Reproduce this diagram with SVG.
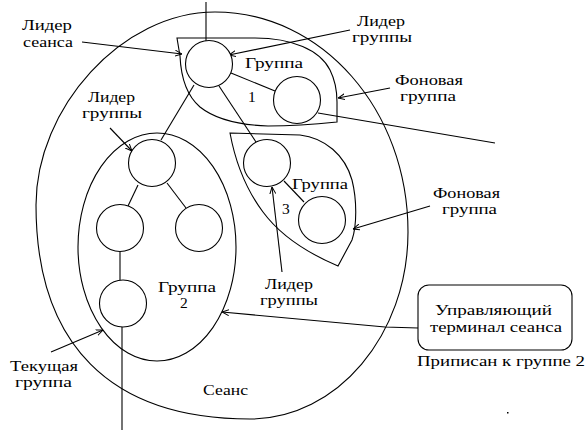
<svg xmlns="http://www.w3.org/2000/svg" width="588" height="430" viewBox="0 0 588 430">
<style>
.o{fill:none;stroke:#000;stroke-width:1.1}
.c{fill:#fff;stroke:#000;stroke-width:1.1}
.l{fill:none;stroke:#000;stroke-width:1.1}
.a{fill:none;stroke:#000;stroke-width:1.1;marker-end:url(#ah)}
text{font-family:'Liberation Serif','DejaVu Serif',serif;font-size:15.5px;fill:#000}
</style>
<defs>
<marker id="ah" viewBox="0 0 7 7" refX="7" refY="3.5" markerWidth="7" markerHeight="7" markerUnits="userSpaceOnUse" orient="auto">
<path d="M0,0.5 L7,3.5 L0,6.5" fill="none" stroke="#000" stroke-width="1"/>
</marker>
</defs>
<rect width="588" height="430" fill="#fff"/>

<g id="session">
<path class="o" d="M215,12 C322,12 408,110 408,232 C408,335 337,419 250,419 C110,419 36,344 36,205 C36,108 122,12 215,12 Z"/>
<text x="203" y="395" textLength="45" lengthAdjust="spacingAndGlyphs">Сеанс</text>
</g>

<g id="group1">
<path class="o" d="M177,38 L255,38 C292,38 320,50 330,70 C336,82 337,92 337,102 L337,122 C318,124 298,126 268,126 C240,125 215,119 200,107 C186,95 181,78 180,56 Z"/>
<text x="245" y="68" textLength="58" lengthAdjust="spacingAndGlyphs">Группа</text>
<text x="248" y="102">1</text>
</g>

<g id="group2">
<ellipse class="o" cx="157" cy="247" rx="79" ry="114"/>
<text x="158" y="292" textLength="58" lengthAdjust="spacingAndGlyphs">Группа</text>
<text x="180" y="308">2</text>
</g>

<g id="group3">
<path class="o" d="M230,133 L300,135 C325,138 345,155 352,180 C357,200 357,225 352,240 L338,266 C305,252 280,235 263,212 C245,188 235,160 230,133 Z"/>
<text x="292" y="189" textLength="56" lengthAdjust="spacingAndGlyphs">Группа</text>
<text x="282" y="214">3</text>
</g>

<g id="connectors">
<line class="l" x1="206" y1="2" x2="206" y2="41"/>
<line class="l" x1="231" y1="73" x2="275" y2="91"/>
<line class="l" x1="194" y1="85" x2="161" y2="140"/>
<line class="l" x1="219" y1="86" x2="256" y2="142"/>
<line class="l" x1="318" y1="113" x2="495" y2="143"/>
<line class="l" x1="138" y1="185" x2="128" y2="206"/>
<line class="l" x1="167" y1="183" x2="186" y2="208"/>
<line class="l" x1="120" y1="252" x2="120" y2="280"/>
<line class="l" x1="122" y1="327" x2="122" y2="430"/>
<line class="l" x1="284" y1="181" x2="304" y2="202"/>
<polyline class="a" points="418,328 385,327 222,312"/>
<line class="a" x1="82" y1="42" x2="182" y2="54"/>
<line class="a" x1="350" y1="30" x2="229" y2="55"/>
<line class="a" x1="390" y1="88" x2="338" y2="98"/>
<line class="a" x1="110" y1="128" x2="132" y2="151"/>
<line class="a" x1="430" y1="206" x2="353" y2="229"/>
<line class="a" x1="282" y1="272" x2="272" y2="187"/>
<line class="a" x1="51" y1="352" x2="103" y2="330"/>
</g>

<g id="session-leader"><circle class="c" cx="209" cy="64" r="23.5"/></g>
<g id="g1-member"><circle class="c" cx="297" cy="100" r="23.5"/></g>
<g id="g2-leader"><circle class="c" cx="152" cy="163" r="23.5"/></g>
<g id="g2-left"><circle class="c" cx="120" cy="228" r="23.5"/></g>
<g id="g2-right"><circle class="c" cx="199" cy="228" r="23.5"/></g>
<g id="g2-current"><circle class="c" cx="123" cy="303.5" r="23.5"/></g>
<g id="g3-leader"><circle class="c" cx="267" cy="163" r="23.5"/></g>
<g id="g3-member"><circle class="c" cx="322" cy="220" r="23.5"/></g>

<g id="terminal">
<rect class="o" x="418" y="285" width="154" height="65" rx="11" ry="11"/>
<text x="435" y="315" textLength="117" lengthAdjust="spacingAndGlyphs">Управляющий</text>
<text x="430" y="332" textLength="132" lengthAdjust="spacingAndGlyphs">терминал сеанса</text>
<text x="417" y="366" textLength="168" lengthAdjust="spacingAndGlyphs">Приписан к группе 2</text>
</g>

<g id="labels">
<text x="22" y="30" textLength="50" lengthAdjust="spacingAndGlyphs">Лидер</text>
<text x="23" y="47" textLength="50" lengthAdjust="spacingAndGlyphs">сеанса</text>
<text x="357" y="26" textLength="48" lengthAdjust="spacingAndGlyphs">Лидер</text>
<text x="352" y="42" textLength="60" lengthAdjust="spacingAndGlyphs">группы</text>
<text x="395" y="85" textLength="68" lengthAdjust="spacingAndGlyphs">Фоновая</text>
<text x="400" y="101" textLength="56" lengthAdjust="spacingAndGlyphs">группа</text>
<text x="88" y="102" textLength="47" lengthAdjust="spacingAndGlyphs">Лидер</text>
<text x="82" y="118" textLength="60" lengthAdjust="spacingAndGlyphs">группы</text>
<text x="433" y="198" textLength="67" lengthAdjust="spacingAndGlyphs">Фоновая</text>
<text x="442" y="214" textLength="55" lengthAdjust="spacingAndGlyphs">группа</text>
<text x="265" y="289" textLength="48" lengthAdjust="spacingAndGlyphs">Лидер</text>
<text x="260" y="305" textLength="58" lengthAdjust="spacingAndGlyphs">группы</text>
<text x="10" y="371" textLength="68" lengthAdjust="spacingAndGlyphs">Текущая</text>
<text x="15" y="387" textLength="57" lengthAdjust="spacingAndGlyphs">группа</text>
</g>
<rect x="507" y="412" width="1.5" height="1.5" fill="#000"/>
</svg>
